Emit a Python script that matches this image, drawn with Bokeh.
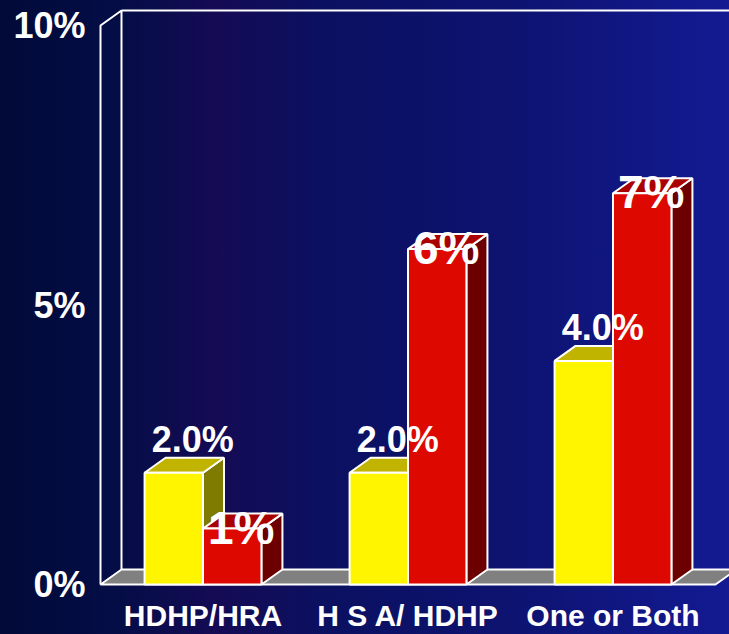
from bokeh.plotting import figure
from bokeh.models import Range1d, FixedTicker, ColumnDataSource
from bokeh.core.properties import value
from bokeh.embed import file_html
from bokeh.resources import INLINE

# ---- data ----
categories = ["HDHP/HRA", "H S A/ HDHP", "One or Both"]
yellow_vals = [2.0, 2.0, 4.0]
red_vals = [1.0, 6.0, 7.0]
yellow_labels = ["2.0%", "2.0%", "4.0%"]
red_labels = ["1%", "6%", "7%"]
ytick_vals = [0, 5, 10]
ytick_labels = ["0%", "5%", "10%"]

# ---- geometry (pixel scale helpers) ----
PX_X = 205.0      # pixels per category
PX_Y = 55.9       # pixels per percentage point
DX = 21.0 / PX_X  # depth offset in data units
DY = 15.0 / PX_Y
n = len(categories)

p = figure(width=729, height=634,
           x_range=Range1d(-5.0 / PX_X, 629.0 / PX_X),
           y_range=Range1d(-10.0 / PX_Y, 584.0 / PX_Y),
           output_backend="svg", toolbar_location=None,
           min_border_left=95, min_border_right=0,
           min_border_top=0, min_border_bottom=40)
p.xgrid.visible = False
p.ygrid.visible = False
p.outline_line_color = None
p.background_fill_alpha = 0
p.border_fill_alpha = 0
p.styles = {"background": "linear-gradient(to right, #010a38 0%, #040d46 16%, #150b55 30%, #0b1060 44%, #0d1370 70%, #131a92 100%)"}

FONT = value("Liberation Sans")

# y axis
ya = p.yaxis[0]
ya.ticker = FixedTicker(ticks=ytick_vals)
ya.major_label_overrides = {v: t for v, t in zip(ytick_vals, ytick_labels)}
ya.axis_line_color = None
ya.major_tick_line_color = None
ya.major_tick_out = 0
ya.major_tick_in = 0
ya.minor_tick_line_color = None
ya.minor_tick_out = 0
ya.major_label_text_color = "white"
ya.major_label_text_font = "Liberation Sans"
ya.major_label_text_font_style = "bold"
ya.major_label_text_font_size = "36px"
ya.major_label_standoff = 10

# x axis
xa = p.xaxis[0]
xa.ticker = FixedTicker(ticks=[i + 0.5 for i in range(n)])
xa.major_label_overrides = {i + 0.5: c for i, c in enumerate(categories)}
xa.axis_line_color = None
xa.major_tick_line_color = None
xa.major_tick_out = 0
xa.major_tick_in = 0
xa.minor_tick_line_color = None
xa.minor_tick_out = 0
xa.major_label_text_color = "white"
xa.major_label_text_font = "Liberation Sans"
xa.major_label_text_font_style = "bold"
xa.major_label_text_font_size = "30px"
xa.major_label_standoff = 4

ymax = ytick_vals[-1]
xmax = float(n)

# floor
p.patch([0, xmax, xmax + DX, DX], [0, 0, DY, DY], fill_color="#808080",
        line_color="white", line_width=2)
# left wall
p.line([0, 0, DX, DX], [0, ymax, ymax + DY, DY], line_color="white", line_width=2)
# back wall top
p.line([DX, xmax + 2 * DX], [ymax + DY, ymax + DY], line_color="white", line_width=2)


def draw_series(vals, lo, hi, front, top, side):
    sx, sy, tx, ty = [], [], [], []
    lefts, rights = [], []
    for i, v in enumerate(vals):
        l = i + lo
        r = i + hi
        lefts.append(l)
        rights.append(r)
        sx.append([r, r + DX, r + DX, r])
        sy.append([0, DY, v + DY, v])
        tx.append([l, l + DX, r + DX, r])
        ty.append([v, v + DY, v + DY, v])
    p.patches(sx, sy, fill_color=side, line_color="white", line_width=2)
    p.patches(tx, ty, fill_color=top, line_color="white", line_width=2)
    p.quad(left=lefts, right=rights, bottom=0, top=vals, fill_color=front,
           line_color="white", line_width=2)


draw_series(yellow_vals, 0.215, 0.5, "#fff500", "#c0b400", "#7f7b00")
draw_series(red_vals, 0.5, 0.785, "#dd0900", "#a90000", "#6c0000")

# value labels
ysrc = ColumnDataSource(dict(x=[i + 0.3575 for i in range(n)], y=yellow_vals, t=yellow_labels))
p.text(x="x", y="y", text="t", source=ysrc, x_offset=19, y_offset=-33,
       text_color="white", text_font=FONT, text_font_style="bold",
       text_font_size="36px", text_align="center", text_baseline="alphabetic")
rsrc = ColumnDataSource(dict(x=[i + 0.6425 for i in range(n)], y=red_vals, t=red_labels))
p.text(x="x", y="y", text="t", source=rsrc, x_offset=9, y_offset=-1,
       text_color="white", text_font=FONT, text_font_style="bold",
       text_font_size="46px", text_align="center", text_baseline="alphabetic")

open("out.html", "w").write(file_html(p, INLINE))
